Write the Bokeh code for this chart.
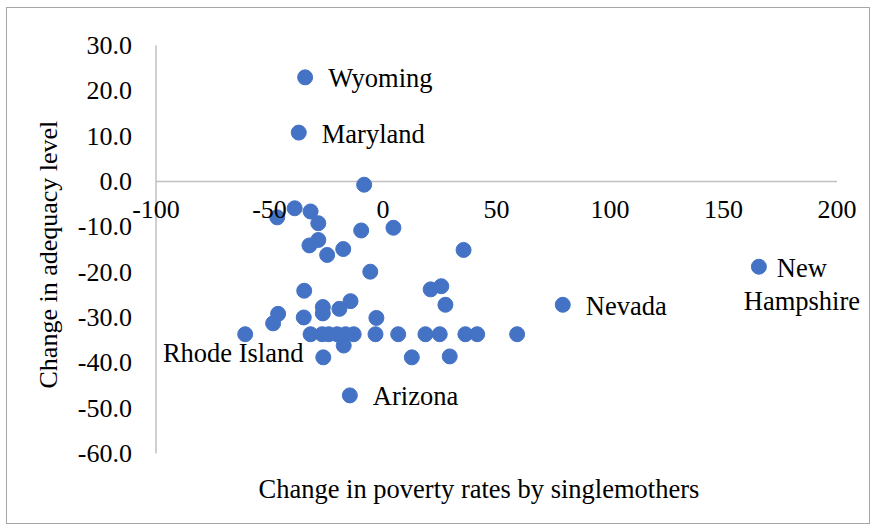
from bokeh.plotting import figure
from bokeh.models import LinearAxis, FixedTicker, NumeralTickFormatter, ColumnDataSource, Title
from bokeh.core.properties import value
from bokeh.embed import file_html
from bokeh.resources import INLINE

# ---------------- data ----------------
x_title = "Change in poverty rates by singlemothers"
y_title = "Change in adequacy level"
x_ticks = [-100, -50, 0, 50, 100, 150, 200]
y_ticks = [-60, -50, -40, -30, -20, -10, 0, 10, 20, 30]

# unlabeled states
pov_change = [-8.3, -46.6, -38.9, -31.9, -28.5, -28.5, -32.4, -24.6, -17.5, -9.6,
              4.6, -5.6, -34.7, -46.2, -48.4, -34.9, -26.5, -26.5, -19.2, -14.3,
              -2.9, -17.3, -26.3, 12.7, 29.4, 21.0, 25.7, 27.5, 35.5,
              -31.9, -26.8, -23.9, -20.2, -16.5, -12.9, -3.3, 6.7, 18.7, 25.0,
              36.3, 41.5, 59.1]
adeq_change = [-0.7, -7.9, -5.9, -6.6, -9.2, -12.9, -14.1, -16.2, -14.9, -10.8,
               -10.2, -19.9, -24.1, -29.2, -31.3, -30.0, -27.7, -29.1, -28.1, -26.4,
               -30.1, -36.2, -38.8, -38.8, -38.6, -23.8, -23.1, -27.2, -15.1,
               -33.7, -33.7, -33.7, -33.7, -33.7, -33.7, -33.7, -33.7, -33.7, -33.7,
               -33.7, -33.7, -33.7]

# labeled states
lab_names = ["Wyoming", "Maryland", "Arizona", "Nevada", "Rhode Island", "New\nHampshire"]
lab_pov = [-34.3, -37.1, -14.6, 79.2, -60.7, 165.6]
lab_adeq = [23.0, 10.8, -47.2, -27.2, -33.7, -18.8]

# ---------------- styling ----------------
FONT = "Liberation Serif"
TICK_FS = "26px"
FS = "26.5px"
BLUE = "#4472C4"
AXIS_GREY = "#c0c0c0"

p = figure(width=864, height=517, x_range=(-138.1, 210.8), y_range=(-64, 34),
           output_backend="svg", toolbar_location=None, tools="",
           x_axis_type=None, y_axis_type=None,
           min_border_left=62, min_border_right=10, min_border_top=19, min_border_bottom=54)
p.styles = {"border": "1px solid #a6a6a6", "margin-left": "6px", "margin-top": "7px"}
p.outline_line_color = None
p.xgrid.visible = False
p.ygrid.visible = False
p.background_fill_color = "white"
p.border_fill_color = "white"

# y axis crossing at x = -100 (labels), line only between the end ticks
yax = LinearAxis(ticker=FixedTicker(ticks=y_ticks), formatter=NumeralTickFormatter(format="0.0"),
                 fixed_location=x_ticks[0])
yax.axis_line_color = None
yax.major_tick_line_color = None
yax.minor_tick_line_color = None
yax.major_tick_out = 0
yax.major_tick_in = 0
yax.major_label_standoff = 24
yax.major_label_text_font = FONT
yax.major_label_text_font_size = TICK_FS
yax.major_label_text_color = "black"
p.add_layout(yax, "left")
p.segment(x0=[x_ticks[0]], y0=[y_ticks[0]], x1=[x_ticks[0]], y1=[y_ticks[-1]],
          line_color=AXIS_GREY, line_width=1.5)

# y axis title
p.add_layout(Title(text=y_title, align="left", offset=83, standoff=12, vertical_align="middle",
                   text_font=FONT, text_font_size="26px", text_font_style="normal",
                   text_color="black"), "left")

# x axis crossing at y = 0 (labels), line only between the end ticks
xax = LinearAxis(ticker=FixedTicker(ticks=x_ticks), formatter=NumeralTickFormatter(format="0"),
                 fixed_location=0)
xax.axis_line_color = None
xax.major_tick_line_color = None
xax.minor_tick_line_color = None
xax.major_tick_out = 0
xax.major_tick_in = 0
xax.major_label_standoff = 19
xax.major_label_text_font = FONT
xax.major_label_text_font_size = TICK_FS
xax.major_label_text_color = "black"
p.add_layout(xax, "below")
p.segment(x0=[x_ticks[0]], y0=[0], x1=[x_ticks[-1]], y1=[0], line_color=AXIS_GREY, line_width=1.5)

# x axis title
p.add_layout(Title(text=x_title, align="left", offset=189, standoff=4, vertical_align="top",
                   text_font=FONT, text_font_size=FS, text_font_style="normal",
                   text_color="black"), "below")

# points
p.scatter(pov_change, adeq_change, size=15, fill_color=BLUE, line_color=BLUE)
p.scatter(lab_pov, lab_adeq, size=15, fill_color=BLUE, line_color=BLUE)

# labels
left_src = ColumnDataSource(dict(x=lab_pov[:4], y=lab_adeq[:4], t=lab_names[:4]))
p.text(x="x", y="y", text="t", source=left_src, x_offset=23, y_offset=1,
       text_align="left", text_baseline="middle",
       text_font=value(FONT), text_font_size=value(FS), text_color="black")

ri_src = ColumnDataSource(dict(x=[lab_pov[4]], y=[lab_adeq[4]], t=[lab_names[4]]))
p.text(x="x", y="y", text="t", source=ri_src, x_offset=-12, y_offset=19,
       text_align="center", text_baseline="middle",
       text_font=value(FONT), text_font_size=value(FS), text_color="black")

nh_src = ColumnDataSource(dict(x=[lab_pov[5]], y=[lab_adeq[5]], t=[lab_names[5]]))
p.text(x="x", y="y", text="t", source=nh_src, x_offset=43, y_offset=18,
       text_align="center", text_baseline="middle", text_line_height=1.1,
       text_font=value(FONT), text_font_size=value(FS), text_color="black")

open("out.html", "w").write(file_html(p, INLINE))
